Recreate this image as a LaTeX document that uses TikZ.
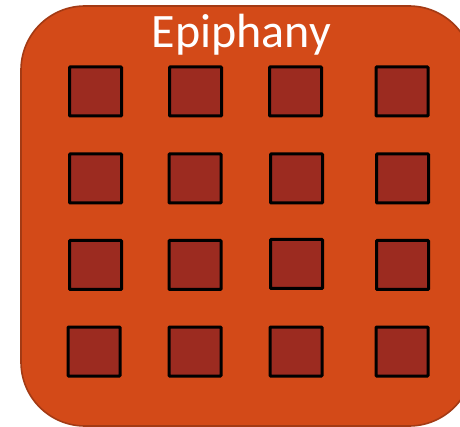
\documentclass[tikz,border=0pt]{standalone}
\usepackage{fontspec}
\setmainfont{Carlito}
\definecolor{panelfill}{HTML}{D34A18}
\definecolor{panelline}{HTML}{A33A14}
\definecolor{cellfill}{HTML}{9C2B20}
\begin{document}
\begin{tikzpicture}[x=1pt,y=-1pt,
  panel/.style={fill=panelfill,draw=panelline,line width=1.6pt,rounded corners=64pt},
  cell/.style={draw=black,fill=cellfill,line width=3pt,minimum width=52pt,minimum height=49pt,inner sep=0pt,rounded corners=0.8pt},
  title/.style={text=white,font=\fontsize{48}{48}\selectfont,inner sep=0pt,anchor=base}]
\useasboundingbox (0,0) rectangle (460,427);
\clip (0,0) rectangle (460,427);
\draw[panel] (21,6) rectangle (473,426);
\node[title] (t) at (241.5,48) {Epiphany};
\node[cell] (s11) at (95.5,91.5) {};
\node[cell] (s12) at (195.5,91.5) {};
\node[cell] (s13) at (295.5,91.5) {};
\node[cell] (s14) at (402,91.5) {};
\node[cell] (s21) at (95.5,178.5) {};
\node[cell] (s22) at (195,178.5) {};
\node[cell] (s23) at (296.5,178.5) {};
\node[cell] (s24) at (402.5,178.5) {};
\node[cell] (s31) at (95.5,265) {};
\node[cell] (s32) at (195,265) {};
\node[cell] (s33) at (296.5,264) {};
\node[cell] (s34) at (402.5,265) {};
\node[cell] (s41) at (94,351.5) {};
\node[cell] (s42) at (195,351.5) {};
\node[cell] (s43) at (296,351.5) {};
\node[cell] (s44) at (402,351.5) {};
\end{tikzpicture}
\end{document}
